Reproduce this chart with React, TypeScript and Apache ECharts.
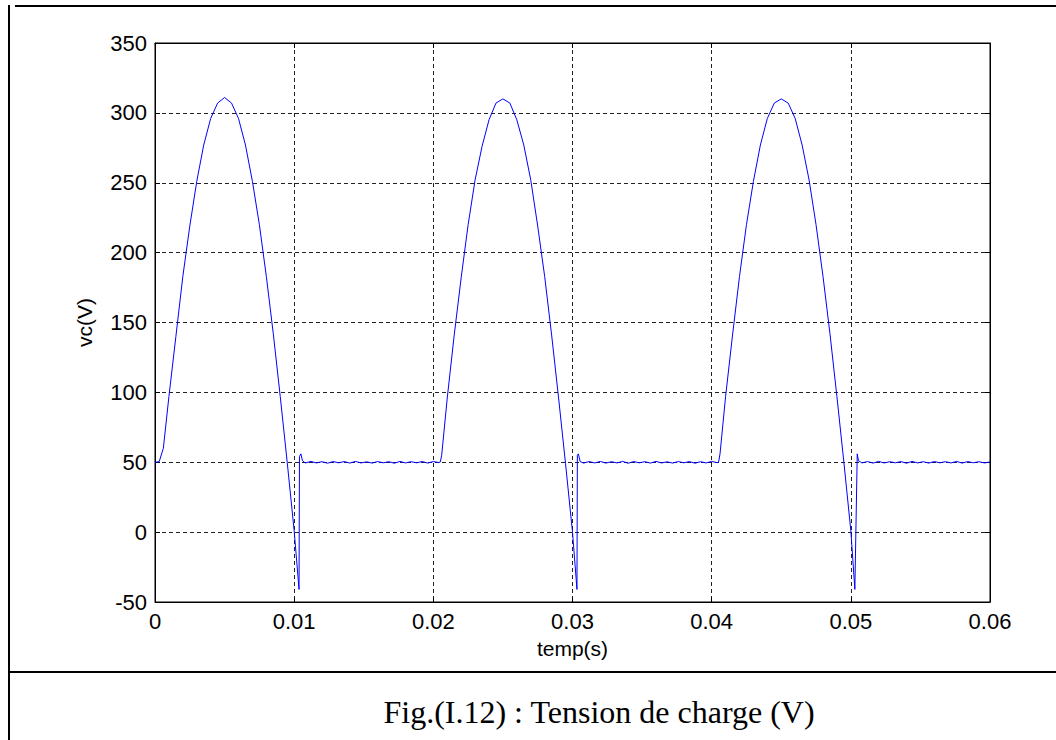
import React, { useEffect, useRef } from "react";
import * as echarts from "echarts";

// Readings in [time (ms), voltage (V)]
const cycle1: [number, number][] = [
  [0, 50], [0.3, 50.4], [0.6, 60], [1.0, 97], [1.5, 140], [2.0, 183], [2.5, 219], [3.0, 251],
  [3.5, 277], [4.0, 296], [4.5, 307], [5.0, 311], [5.5, 307], [6.0, 296], [6.5, 277], [7.0, 251],
  [7.5, 220], [8.0, 183], [8.5, 142], [9.0, 97], [9.5, 50], [10.0, 1], [10.35, -41], [10.38, 54],
  [10.48, 56], [10.6, 51], [10.8, 49.5], [11.2, 50.6], [11.6, 49.5], [12.0, 50.4], [12.4, 49.3],
  [12.8, 50.5], [13.2, 49.6], [13.6, 50.5], [14.0, 49.4], [14.4, 50.6], [14.8, 49.5], [15.2, 50.3],
  [15.6, 49.4], [16.0, 50.5], [16.4, 49.6], [16.8, 50.4], [17.2, 49.3], [17.6, 50.6], [18.0, 49.5],
  [18.4, 50.4], [18.8, 49.6], [19.2, 50.5], [19.6, 49.4], [20.0, 50.5], [20.4, 49.8],
];

const cycle2: [number, number][] = [
  [20.5, 50.2], [20.6, 55], [21.0, 96], [21.5, 141], [22.0, 182], [22.5, 220], [23.0, 252],
  [23.5, 276], [24.0, 295], [24.5, 307], [25.0, 310], [25.5, 307], [26.0, 295], [26.5, 277],
  [27.0, 252], [27.5, 219], [28.0, 183], [28.5, 141], [29.0, 96], [29.5, 49], [30.0, 0],
  [30.32, -41], [30.35, 55], [30.42, 56], [30.55, 50.5], [30.8, 49.4], [31.2, 50.5], [31.6, 49.5],
  [32.0, 50.6], [32.4, 49.4], [32.8, 50.4], [33.2, 49.5], [33.6, 50.6], [34.0, 49.3], [34.4, 50.5],
  [34.8, 49.6], [35.2, 50.4], [35.6, 49.4], [36.0, 50.6], [36.4, 49.5], [36.8, 50.3], [37.2, 49.4],
  [37.6, 50.5], [38.0, 49.6], [38.4, 50.5], [38.8, 49.3], [39.2, 50.4], [39.6, 49.5], [40.0, 50.6],
  [40.4, 49.7],
];

const cycle3: [number, number][] = [
  [40.5, 50.3], [40.6, 56], [41.0, 97], [41.5, 141], [42.0, 183], [42.5, 220], [43.0, 251],
  [43.5, 277], [44.0, 296], [44.5, 307], [45.0, 310], [45.5, 307], [46.0, 296], [46.5, 277],
  [47.0, 252], [47.5, 220], [48.0, 183], [48.5, 142], [49.0, 97], [49.5, 50], [50.0, 1],
  [50.29, -41], [50.46, 56], [50.55, 51], [50.7, 50.2], [50.8, 49.5], [51.2, 50.5], [51.6, 49.4],
  [52.0, 50.6], [52.4, 49.5], [52.8, 50.4], [53.2, 49.6], [53.6, 50.5], [54.0, 49.3], [54.4, 50.6],
  [54.8, 49.5], [55.2, 50.4], [55.6, 49.4], [56.0, 50.5], [56.4, 49.6], [56.8, 50.4], [57.2, 49.5],
  [57.6, 50.6], [58.0, 49.4], [58.4, 50.5], [58.8, 49.6], [59.2, 50.4], [59.6, 49.5], [60.0, 50.2],
];

const xTickLabels = ["0", "0.01", "0.02", "0.03", "0.04", "0.05", "0.06"];
const yTickLabels = ["-50", "0", "50", "100", "150", "200", "250", "300", "350"];
const xName = "temp(s)";
const yName = "vc(V)";
const caption = "Fig.(I.12) : Tension de charge (V)";

const SANS = "'Liberation Sans', Arial, Helvetica, sans-serif";
const SERIF = "'Liberation Serif', 'Times New Roman', serif";

export default function App() {
  const ref = useRef<HTMLDivElement>(null);

  useEffect(() => {
    if (!ref.current) return;
    const chart = echarts.init(ref.current, undefined, { renderer: "svg" });
    const data = [...cycle1, ...cycle2, ...cycle3].map(([t, v]) => [t / 1000, v]);

    const grid = { left: 155, right: 66, top: 43, bottom: 138 };
    const dashed = { show: true, lineStyle: { color: "#222", width: 1, type: [4, 3] as any } };
    const blackLine = { show: true, onZero: false, lineStyle: { color: "#000", width: 1 } };
    const tick = { show: true, inside: true, length: 5, lineStyle: { color: "#000" } };

    chart.setOption({
      animation: false,
      backgroundColor: "#fff",
      grid: { ...grid, show: true, borderColor: "#000", borderWidth: 1, backgroundColor: "transparent" },
      xAxis: [
        {
          type: "value",
          min: 0,
          max: 0.06,
          interval: 0.01,
          position: "bottom",
          name: xName,
          nameLocation: "middle",
          nameGap: 36,
          nameTextStyle: { fontFamily: SANS, fontSize: 21, color: "#000" },
          axisLine: blackLine,
          axisTick: tick,
          axisLabel: {
            fontFamily: SANS,
            fontSize: 22,
            color: "#000",
            margin: 8,
            formatter: (v: number) => xTickLabels[Math.round(v / 0.01)] ?? "",
          },
          splitLine: dashed,
        },
        {
          type: "value",
          min: 0,
          max: 0.06,
          interval: 0.01,
          position: "top",
          axisLine: blackLine,
          axisTick: tick,
          axisLabel: { show: false },
          splitLine: { show: false },
        },
      ],
      yAxis: [
        {
          type: "value",
          min: -50,
          max: 350,
          interval: 50,
          position: "left",
          name: yName,
          nameLocation: "middle",
          nameGap: 60,
          nameTextStyle: { fontFamily: SANS, fontSize: 21, color: "#000" },
          axisLine: blackLine,
          axisTick: tick,
          axisLabel: {
            fontFamily: SANS,
            fontSize: 22,
            color: "#000",
            margin: 8,
            formatter: (v: number) => yTickLabels[Math.round((v + 50) / 50)] ?? "",
          },
          splitLine: dashed,
        },
        {
          type: "value",
          min: -50,
          max: 350,
          interval: 50,
          position: "right",
          axisLine: blackLine,
          axisTick: tick,
          axisLabel: { show: false },
          splitLine: { show: false },
        },
      ],
      series: [
        {
          type: "line",
          data,
          showSymbol: false,
          symbol: "none",
          lineStyle: { color: "#0000ff", width: 1 },
          itemStyle: { color: "#0000ff" },
          z: 5,
        },
      ],
      graphic: [
        { type: "rect", shape: { x: 8, y: 5, width: 2, height: 735 }, style: { fill: "#000" }, silent: true },
        { type: "rect", shape: { x: 15, y: 5, width: 1041, height: 2 }, style: { fill: "#000" }, silent: true },
        { type: "rect", shape: { x: 10, y: 671, width: 1046, height: 2 }, style: { fill: "#000" }, silent: true },
        {
          type: "text",
          x: 599,
          y: 712,
          style: {
            text: caption,
            fontFamily: SERIF,
            fontSize: 32,
            fill: "#000",
            textAlign: "center",
            textVerticalAlign: "middle",
          },
          silent: true,
        },
      ],
    });

    return () => chart.dispose();
  }, []);

  return (
    <div
      ref={ref}
      style={{ position: "fixed", left: 0, top: 0, width: 1056, height: 740, background: "#fff" }}
    />
  );
}
